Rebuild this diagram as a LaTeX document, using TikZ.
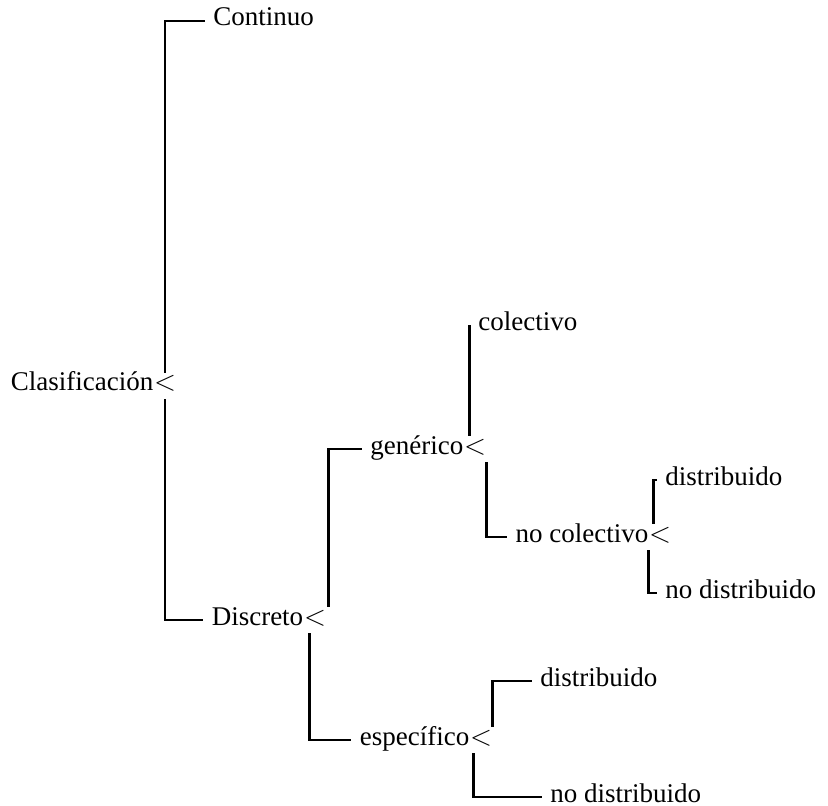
\documentclass[tikz,border=0pt]{standalone}
\usepackage{fontspec}
\setmainfont{Liberation Serif}

\begin{document}
\begin{tikzpicture}[x=0.5pt,y=-0.5pt,
    every node/.style={font=\fontsize{13.5}{16}\selectfont, inner xsep=1pt, inner ysep=0pt, text height=0.5em, text depth=0pt},
    menor/.style={inner xsep=-1pt, inner ysep=4pt},
    hoja/.style={anchor=west},
    rama/.style={line width=1.2pt, shorten >=3pt}]
    \useasboundingbox (0,0) rectangle (828,806);

    % Signos <
    \node[menor] (clasA) at (165,386) {$<$};
    \node[menor] (discA) at (315,620) {$<$};
    \node[menor] (genA) at (475,449) {$<$};
    \node[menor] (nocolA) at (660,537) {$<$};
    \node[menor] (espA) at (481,740) {$<$};

    % Nombres de las ramas
    \node[anchor=base east] (clas) at (clasA.base west) {Clasificación};
    \node[anchor=base east] (disc) at (discA.base west) {Discreto};
    \node[anchor=base east] (gen) at (genA.base west) {genérico};
    \node[anchor=base east] (nocol) at (nocolA.base west) {no colectivo};
    \node[anchor=base east] (esp) at (espA.base west) {específico};

    % Hojas
    \node[hoja] (cont) at (211,21) {Continuo};
    \node[hoja] (col) at (476,326) {colectivo};
    \node[hoja] (dist1) at (663,480) {distribuido};
    \node[hoja] (nodist1) at (663,593) {no distribuido};
    \node[hoja] (dist2) at (538,681) {distribuido};
    \node[hoja] (nodist2) at (548,797) {no distribuido};

    % Clasificación
    \draw[rama] (clasA.north) |- (cont.west);
    \draw[rama] (clasA.south) |- (disc.west);

    % Discreto
    \draw[rama] ([xshift=2pt]discA.north east) |- (gen.west);
    \draw[rama] ([xshift=2pt]discA.south west) |- (esp.west);

    % genérico
    \draw[rama] ([xshift=2pt]genA.north west) |- (col.west);
    \draw[rama] ([xshift=1pt]genA.south east) |- (nocol.west);

    % no colectivo
    \draw[rama] ([xshift=1.5pt]nocolA.north west) |- (dist1.west);
    \draw[rama] ([xshift=-1pt]nocolA.south west) |- (nodist1.west);

    % específico
    \draw[rama] ([xshift=1pt]espA.north east) |- (dist2.west);
    \draw[rama] ([xshift=1pt]espA.south west) |- (nodist2.west);
\end{tikzpicture}
\end{document}
